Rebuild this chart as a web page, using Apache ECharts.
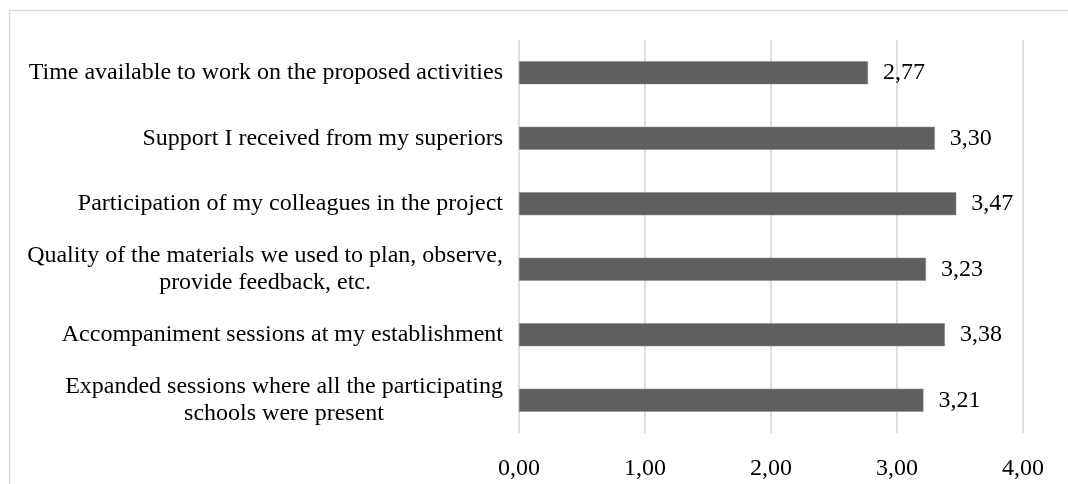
<!DOCTYPE html>
<html>
<head>
<meta charset="utf-8">
<script src="https://cdn.jsdelivr.net/npm/echarts@6/dist/echarts.min.js"></script>
<style>
  html, body { margin: 0; padding: 0; background: #fff; }
  #chart { width: 1068px; height: 484px; }
</style>
</head>
<body>
<div id="chart"></div>
<script>
var myChart = echarts.init(document.getElementById('chart'));

// categories top to bottom
var categories = [
    'Time available to work on the proposed activities',
    'Support I received from my superiors',
    'Participation of my colleagues in the project',
    'Quality of the materials we used to plan, observe,\nprovide feedback, etc.',
    'Accompaniment sessions at my establishment',
    'Expanded sessions where all the participating\nschools were present'
];
var scores = [2.77, 3.30, 3.47, 3.23, 3.38, 3.21];
var axisMin = 0, axisMax = 4, axisStep = 1;

var serif = '"Liberation Serif", "Times New Roman", serif';

function comma(v) {
    return Number(v).toFixed(2).replace('.', ',');
}

myChart.setOption({
    animation: false,
    backgroundColor: '#fff',
    textStyle: { fontFamily: serif },
    graphic: [{
        type: 'rect',
        shape: { x: 9.5, y: 10.5, width: 1100, height: 520 },
        style: { fill: 'none', stroke: '#d9d9d9', lineWidth: 1.5 },
        silent: true
    }],
    grid: { left: 519, right: 45, top: 40, bottom: 51, containLabel: false },
    xAxis: {
        type: 'value',
        min: axisMin,
        max: axisMax,
        interval: axisStep,
        axisLine: { show: false },
        axisTick: { show: false },
        splitLine: { lineStyle: { color: '#dedede', width: 2 } },
        axisLabel: {
            margin: 24,
            color: '#000',
            fontSize: 24,
            fontFamily: serif,
            formatter: comma
        }
    },
    yAxis: {
        type: 'category',
        inverse: true,
        data: categories,
        axisLine: { show: false },
        axisTick: { show: false },
        axisLabel: {
            margin: 16,
            color: '#000',
            fontSize: 24,
            fontFamily: serif,
            lineHeight: 27,
            // center each line of a wrapped label
            formatter: function (v) {
                return v.split('\n').map(function (l) { return '{c|' + l + '}'; }).join('\n');
            },
            rich: {
                c: { align: 'center', fontSize: 24, fontFamily: serif, color: '#000', lineHeight: 27 }
            }
        }
    },
    series: [{
        type: 'bar',
        data: scores,
        barWidth: 23,
        itemStyle: { color: '#5f5f5f', borderColor: '#8a8a8a', borderWidth: 0.5 },
        label: {
            show: true,
            position: 'right',
            distance: 15,
            color: '#000',
            fontSize: 24,
            fontFamily: serif,
            formatter: function (p) { return comma(p.value); }
        }
    }]
});
</script>
</body>
</html>
